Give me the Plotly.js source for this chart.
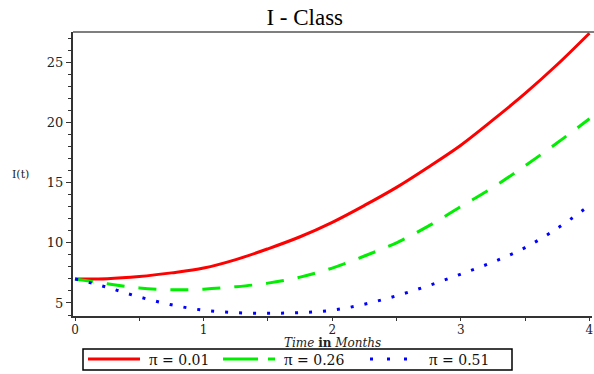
<!DOCTYPE html>
<html><head><meta charset="utf-8">
<script src="https://cdn.plot.ly/plotly-3.0.1.min.js"></script>
<style>body{margin:0;padding:0;background:#fff}#c{width:594px;height:374px}</style>
</head><body><div id="c"></div>
<script>
const time = [0, 0.25, 0.5, 0.75, 1, 1.25, 1.5, 1.75, 2, 2.25, 2.5, 2.75, 3, 3.25, 3.5, 3.75, 4];
const iPi001 = [7, 7.02, 7.2, 7.5, 7.9, 8.6, 9.5, 10.5, 11.7, 13.1, 14.6, 16.3, 18.1, 20.2, 22.4, 24.8, 27.4];
const iPi026 = [7, 6.6, 6.25, 6.1, 6.15, 6.35, 6.65, 7.15, 7.9, 8.9, 10.0, 11.4, 13.0, 14.6, 16.4, 18.3, 20.3];
const iPi051 = [7, 6.3, 5.5, 4.85, 4.4, 4.2, 4.15, 4.2, 4.4, 4.9, 5.6, 6.45, 7.4, 8.4, 9.6, 11.2, 13.1];
const piValues = ["0.01", "0.26", "0.51"];
const xTicks = [0, 1, 2, 3, 4];
const yTicks = [5, 10, 15, 20, 25];

const serif = "Liberation Serif, DejaVu Serif, serif";
const wide = "DejaVu Serif, serif";
const colors = ["#ff0000", "#00ee00", "#0000ff"];
const dashes = ["solid", "18px,14px", "3px,11px"];
const legendDashes = ["solid", "35px,10px", "3px,14px"];
const seriesNames = piValues.map(v => "<span style=\"font-family:'Liberation Serif';font-size:17px\">π</span>\u00a0=\u00a0" + v);

// plot area in pixels: left 73, right 592, top 32, bottom 316
const PL = 73, PW = 519, PB = 316, PH = 284;
const px = v => (v - PL) / PW;
const py = v => (PB - v) / PH;

const traces = [iPi001, iPi026, iPi051].map((ys, i) => ({
  x: time, y: ys, name: "π = " + piValues[i], mode: "lines", showlegend: false,
  line: {color: colors[i], width: 3, dash: dashes[i], shape: "spline"}
}));

// manual legend geometry (pixels)
const legLine = [[88, 140], [223, 275], [370, 421]];
const legText = [148, 283, 428];
const legY = 359;

const shapes = [
  {type: "line", xref: "paper", yref: "paper", x0: 0, x1: 1.01, y0: 1, y1: 1, line: {color: "#555", width: 1.5}},
  {type: "rect", xref: "paper", yref: "paper", x0: px(83), x1: px(512), y0: py(349), y1: py(370), line: {color: "#000", width: 1.5}, fillcolor: "rgba(0,0,0,0)"}
];
legLine.forEach((seg, i) => shapes.push({type: "line", xref: "paper", yref: "paper", x0: px(seg[0]), x1: px(seg[1]), y0: py(legY), y1: py(legY), line: {color: colors[i], width: 3, dash: legendDashes[i]}}));

const annotations = [
  {text: "<i>Time</i> <b>in</b> <i>Months</i>", xref: "paper", yref: "paper", x: px(332), y: py(343), yanchor: "middle", showarrow: false, borderpad: 0, font: {family: wide, size: 12, color: "#222"}},
  {text: "I(t)", xref: "paper", yref: "paper", x: px(20), y: py(174), yanchor: "middle", xanchor: "center", showarrow: false, font: {family: wide, size: 11, color: "#222"}}
];
legText.forEach((x0, i) => annotations.push({text: seriesNames[i], xref: "paper", yref: "paper", x: px(x0), y: py(legY), xanchor: "left", yanchor: "middle", showarrow: false, borderpad: 0, font: {family: wide, size: 14, color: "#111"}}));

const layout = {
  width: 594, height: 374,
  margin: {l: 73, r: 2, t: 32, b: 58, autoexpand: false},
  paper_bgcolor: "#fff", plot_bgcolor: "#fff",
  title: {text: "I - Class", font: {family: serif, size: 23, color: "#000"}, x: 0.513, xref: "container", y: 0.955, yref: "container", yanchor: "middle"},
  xaxis: {range: [-0.016, 4.02], tickvals: xTicks, ticktext: xTicks.map(String), showgrid: false, zeroline: false,
    showline: true, linecolor: "#333", linewidth: 2, ticks: "outside", ticklen: 2, tickcolor: "#333",
    minor: {dtick: 0.5, ticks: "outside", ticklen: 3, tickcolor: "#333", showgrid: false},
    tickfont: {family: wide, size: 12, color: "#222"}},
  yaxis: {range: [3.92, 27.5], tickvals: yTicks, ticktext: yTicks.map(String), showgrid: false, zeroline: false,
    showline: true, linecolor: "#333", linewidth: 2, ticks: "outside", ticklen: 5, tickcolor: "#333",
    minor: {dtick: 1, ticks: "outside", ticklen: 3, tickcolor: "#333", showgrid: false},
    tickfont: {family: wide, size: 13, color: "#222"}},
  shapes: shapes,
  annotations: annotations,
  showlegend: false
};
Plotly.newPlot("c", traces, layout, {displayModeBar: false, staticPlot: true});
</script></body></html>
